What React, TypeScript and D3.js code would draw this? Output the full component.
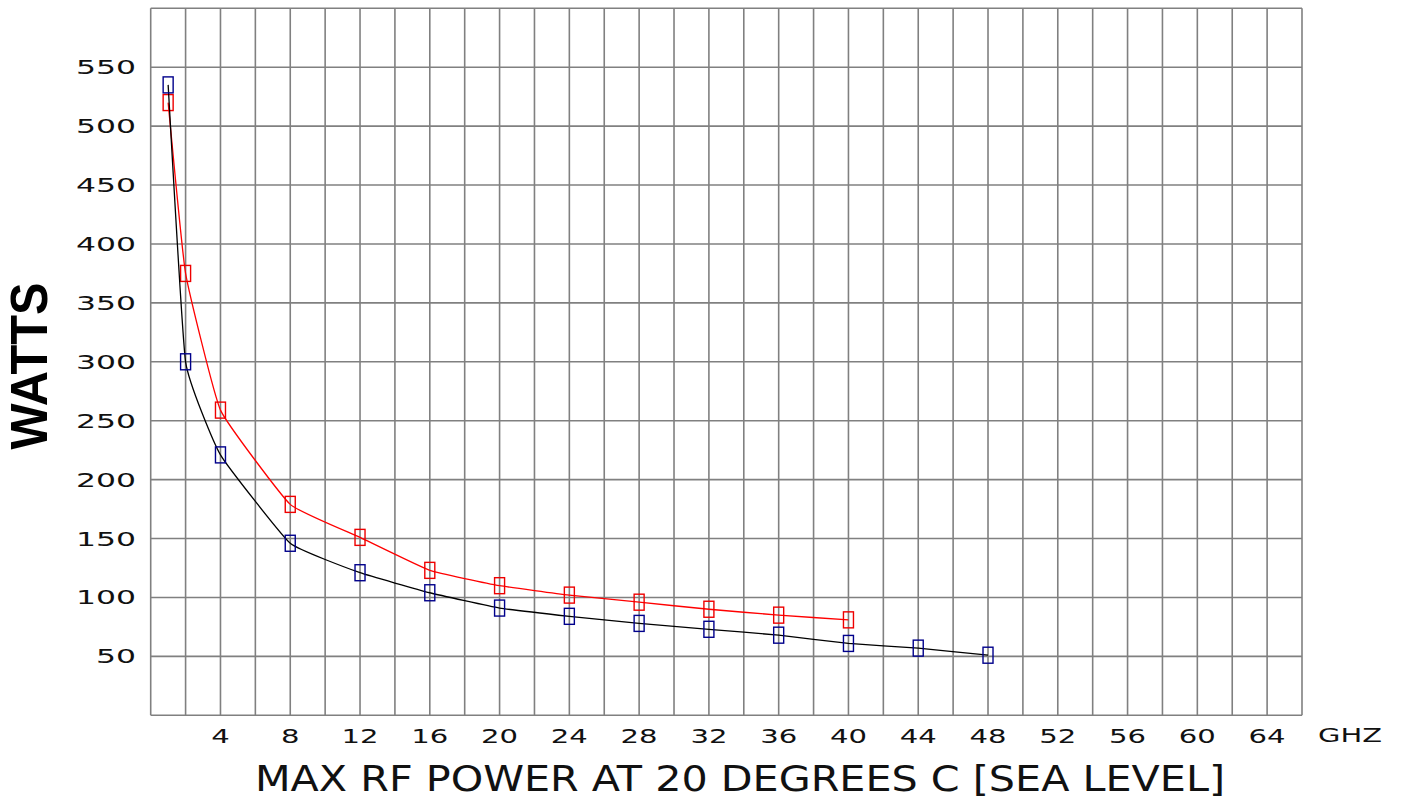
import React from 'react';
import * as d3 from 'd3';

// frequency (GHz) / max power (W) readings
const freqBlack = [1, 2, 4, 8, 12, 16, 20, 24, 28, 32, 36, 40, 44, 48];
const wattsBlack = [535, 300, 221, 146, 121, 104, 91, 84, 78, 73, 68, 61, 57, 51];
const freqRed = [1, 2, 4, 8, 12, 16, 20, 24, 28, 32, 36, 40];
const wattsRed = [520, 375, 259, 179, 151, 123, 110, 102, 96, 90, 85, 81];

const xTickLabels = [4, 8, 12, 16, 20, 24, 28, 32, 36, 40, 44, 48, 52, 56, 60, 64];
const yTickLabels = [50, 100, 150, 200, 250, 300, 350, 400, 450, 500, 550];

const W = 1403;
const H = 798;
const tickFont = '"DejaVu Sans", sans-serif';

function App() {
  const x = d3.scaleLinear().domain([0, 66]).range([150.7, 1302]);
  const y = d3.scaleLinear().domain([0, 600]).range([715.3, 8.3]);

  const line = d3
    .line<[number, number]>()
    .x(d => x(d[0]))
    .y(d => y(d[1]))
    .curve(d3.curveCardinal.tension(0.65));

  const redPts: [number, number][] = freqRed.map((f, i) => [f, wattsRed[i]]);
  const blackPts: [number, number][] = freqBlack.map((f, i) => [f, wattsBlack[i]]);

  const gridX = d3.range(0, 67, 2);
  const gridY = d3.range(0, 601, 50);

  const mw = 10, mh = 16; // marker box

  return (
    <svg width={W} height={H} style={{ position: 'absolute', left: 0, top: 0, background: '#fff' }}>
      <g stroke="#808080" strokeWidth={1.6}>
        {gridX.map(g => (
          <line key={'gx' + g} x1={x(g)} x2={x(g)} y1={y(0)} y2={y(600)} />
        ))}
        {gridY.map(g => (
          <line key={'gy' + g} x1={x(0)} x2={x(66)} y1={y(g)} y2={y(g)} />
        ))}
      </g>

      {/* red series */}
      <path d={line(redPts) || ''} fill="none" stroke="#ff0000" strokeWidth={1.3} />
      {redPts.map((p, i) => (
        <rect key={'r' + i} x={x(p[0]) - mw / 2} y={y(p[1]) - mh / 2} width={mw} height={mh}
          fill="none" stroke="#ee0000" strokeWidth={1.4} />
      ))}

      {/* black line, navy markers */}
      <path d={line(blackPts) || ''} fill="none" stroke="#000" strokeWidth={1.3} />
      {blackPts.map((p, i) => (
        <rect key={'b' + i} x={x(p[0]) - mw / 2} y={y(p[1]) - mh / 2} width={mw} height={mh}
          fill="none" stroke="#00008b" strokeWidth={1.4} />
      ))}

      {/* y tick labels */}
      {yTickLabels.map(t => {
        const s = String(t);
        return (
          <text key={'yt' + t} x={136} y={y(t) + 7} textAnchor="end" fontFamily={tickFont}
            fontSize={20} textLength={s.length * 20} lengthAdjust="spacingAndGlyphs" fill="#111">
            {s}
          </text>
        );
      })}

      {/* x tick labels */}
      {xTickLabels.map(t => {
        const s = String(t);
        return (
          <text key={'xt' + t} x={x(t)} y={743} textAnchor="middle" fontFamily={tickFont}
            fontSize={20} textLength={s.length * 18.5} lengthAdjust="spacingAndGlyphs" fill="#111">
            {s}
          </text>
        );
      })}
      <text x={1318} y={742} fontFamily={tickFont} fontSize={20} textLength={64}
        lengthAdjust="spacingAndGlyphs" fill="#111">GHZ</text>

      {/* axis titles */}
      <text x={255} y={791} fontFamily={tickFont} fontSize={35} textLength={970}
        lengthAdjust="spacingAndGlyphs" fill="#111">MAX RF POWER AT 20 DEGREES C [SEA LEVEL]</text>
      <text transform="translate(47,366) rotate(-90)" textAnchor="middle" fontFamily='"Liberation Sans", Arial, sans-serif'
        fontWeight="bold" fontSize={52} textLength={167} lengthAdjust="spacingAndGlyphs" fill="#000">WATTS</text>
    </svg>
  );
}

export default App;
